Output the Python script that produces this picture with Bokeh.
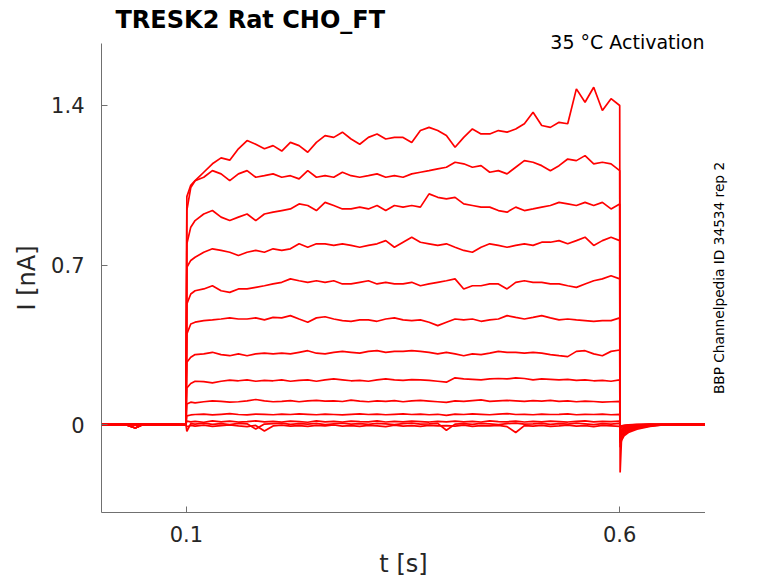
from math import pi

from bokeh.plotting import figure
from bokeh.layouts import row
from bokeh.models import Range1d, FixedTicker, Label, Title
from bokeh.embed import file_html
from bokeh.resources import INLINE

FONT = "DejaVu Sans"

# sample times (s): baseline before the step, during the step, tail after it
t_pre = [0.0, 0.015, 0.03, 0.041, 0.05, 0.07, 0.085, 0.0995]
t_pulse = [0.1005, 0.105,
           0.11, 0.12, 0.13, 0.14, 0.15, 0.16, 0.17, 0.18, 0.19, 0.20,
           0.21, 0.22, 0.23, 0.24, 0.25, 0.26, 0.27, 0.28, 0.29, 0.30,
           0.31, 0.32, 0.33, 0.34, 0.35, 0.36, 0.37, 0.38, 0.39, 0.40,
           0.41, 0.42, 0.43, 0.44, 0.45, 0.46, 0.47, 0.48, 0.49, 0.50,
           0.51, 0.52, 0.53, 0.54, 0.55, 0.56, 0.57, 0.58, 0.59, 0.60]
t_tail = [0.6005, 0.602, 0.605, 0.61, 0.62, 0.635, 0.65, 0.67, 0.70]

# holding current before the step (nA)
base_a = [0.002, 0.0, 0.003, 0.001, 0.002, -0.001, 0.002, 0.0]
base_b = [-0.002, 0.001, -0.001, -0.015, 0.0, 0.002, -0.002, 0.001]
base_c = [0.0, -0.003, 0.001, 0.0, -0.002, 0.001, 0.0, -0.002]

# current during the step (nA), one list per sweep
i_1 = [1.00, 1.05,
       1.07, 1.107, 1.144, 1.17, 1.16, 1.21, 1.246, 1.23, 1.21, 1.224,
       1.20, 1.238, 1.224, 1.195, 1.238, 1.268, 1.26, 1.283, 1.253, 1.23,
       1.26, 1.275, 1.253, 1.26, 1.26, 1.238, 1.29, 1.304, 1.29, 1.268,
       1.217, 1.26, 1.297, 1.275, 1.275, 1.29, 1.283, 1.297, 1.32, 1.37,
       1.312, 1.304, 1.326, 1.32, 1.473, 1.414, 1.48, 1.378, 1.43, 1.40]
i_2 = [0.94, 1.04,
       1.07, 1.085, 1.114, 1.10, 1.07, 1.10, 1.114, 1.085, 1.092, 1.10,
       1.085, 1.092, 1.078, 1.114, 1.085, 1.092, 1.085, 1.107, 1.092, 1.085,
       1.092, 1.10, 1.085, 1.092, 1.085, 1.10, 1.107, 1.114, 1.122, 1.129,
       1.151, 1.144, 1.129, 1.136, 1.107, 1.114, 1.10, 1.129, 1.158, 1.151,
       1.136, 1.114, 1.136, 1.165, 1.158, 1.18, 1.144, 1.151, 1.144, 1.114]
i_3 = [0.793, 0.866,
       0.895, 0.924, 0.939, 0.91, 0.895, 0.91, 0.924, 0.895, 0.924, 0.932,
       0.939, 0.946, 0.968, 0.961, 0.939, 0.975, 0.961, 0.946, 0.946, 0.954,
       0.946, 0.961, 0.939, 0.961, 0.954, 0.961, 0.954, 1.012, 0.997, 0.99,
       0.997, 0.968, 0.961, 0.954, 0.954, 0.939, 0.932, 0.954, 0.939, 0.946,
       0.954, 0.961, 0.975, 0.968, 0.961, 0.975, 0.961, 0.975, 0.946, 0.968]
i_4 = [0.69, 0.72,
       0.734, 0.756, 0.771, 0.764, 0.756, 0.742, 0.756, 0.764, 0.756, 0.771,
       0.764, 0.771, 0.793, 0.778, 0.793, 0.793, 0.786, 0.793, 0.786, 0.778,
       0.786, 0.793, 0.807, 0.778, 0.80, 0.822, 0.80, 0.793, 0.786, 0.793,
       0.778, 0.764, 0.756, 0.778, 0.793, 0.786, 0.778, 0.786, 0.793, 0.786,
       0.80, 0.80, 0.807, 0.793, 0.807, 0.822, 0.786, 0.807, 0.822, 0.807]
i_5 = [0.529, 0.573,
       0.587, 0.595, 0.609, 0.587, 0.58, 0.595, 0.595, 0.602, 0.609, 0.617,
       0.624, 0.639, 0.631, 0.624, 0.631, 0.624, 0.631, 0.617, 0.617, 0.624,
       0.631, 0.617, 0.624, 0.617, 0.617, 0.624, 0.609, 0.617, 0.624, 0.631,
       0.639, 0.595, 0.609, 0.609, 0.617, 0.617, 0.595, 0.624, 0.631, 0.624,
       0.624, 0.617, 0.617, 0.609, 0.602, 0.617, 0.631, 0.639, 0.653, 0.639]
i_6 = [0.397, 0.441,
       0.449, 0.456, 0.459, 0.463, 0.468, 0.463, 0.463, 0.468, 0.459, 0.47,
       0.468, 0.478, 0.463, 0.449, 0.468, 0.473, 0.463, 0.456, 0.453, 0.459,
       0.459, 0.453, 0.463, 0.468, 0.459, 0.456, 0.459, 0.449, 0.434, 0.449,
       0.463, 0.459, 0.463, 0.453, 0.459, 0.463, 0.478, 0.47, 0.463, 0.47,
       0.478, 0.468, 0.459, 0.463, 0.459, 0.456, 0.453, 0.456, 0.456, 0.468]
i_7 = [0.273, 0.295,
       0.307, 0.31, 0.317, 0.307, 0.302, 0.31, 0.302, 0.31, 0.313, 0.31,
       0.313, 0.31, 0.317, 0.324, 0.313, 0.31, 0.317, 0.321, 0.317, 0.313,
       0.321, 0.324, 0.317, 0.321, 0.321, 0.324, 0.321, 0.317, 0.31, 0.317,
       0.31, 0.302, 0.31, 0.307, 0.313, 0.321, 0.317, 0.317, 0.313, 0.317,
       0.313, 0.307, 0.302, 0.298, 0.321, 0.324, 0.31, 0.302, 0.321, 0.327]
i_8 = [0.16, 0.18,
       0.19, 0.188, 0.183, 0.19, 0.195, 0.192, 0.196, 0.19, 0.194, 0.192,
       0.196, 0.19, 0.194, 0.196, 0.19, 0.196, 0.2, 0.196, 0.192, 0.194,
       0.19, 0.196, 0.2, 0.196, 0.194, 0.197, 0.196, 0.194, 0.19, 0.186,
       0.205, 0.2, 0.198, 0.196, 0.2, 0.202, 0.2, 0.205, 0.202, 0.196,
       0.2, 0.198, 0.196, 0.198, 0.194, 0.196, 0.192, 0.194, 0.19, 0.196]
i_9 = [0.09, 0.098,
       0.095, 0.1, 0.104, 0.102, 0.098, 0.1, 0.104, 0.11, 0.104, 0.1,
       0.102, 0.105, 0.1, 0.104, 0.106, 0.103, 0.104, 0.101, 0.107, 0.103,
       0.1, 0.104, 0.102, 0.105, 0.1, 0.104, 0.106, 0.103, 0.1, 0.097,
       0.104, 0.102, 0.105, 0.108, 0.102, 0.104, 0.106, 0.104, 0.102, 0.105,
       0.103, 0.106, 0.102, 0.104, 0.1, 0.103, 0.101, 0.098, 0.1, 0.102]
i_10 = [0.038, 0.042,
        0.044, 0.046, 0.042, 0.045, 0.048, 0.044, 0.042, 0.046, 0.045, 0.043,
        0.046, 0.044, 0.047, 0.045, 0.043, 0.046, 0.044, 0.042, 0.045, 0.047,
        0.044, 0.046, 0.043, 0.045, 0.047, 0.044, 0.046, 0.043, 0.045, 0.04,
        0.046, 0.044, 0.047, 0.045, 0.043, 0.046, 0.048, 0.044, 0.045, 0.043,
        0.046, 0.044, 0.045, 0.047, 0.043, 0.045, 0.044, 0.046, 0.043, 0.045]
i_11 = [0.015, 0.012,
        0.014, 0.01, 0.016, 0.012, 0.015, 0.011, 0.013, 0.016, 0.012, 0.014,
        0.011, 0.015, 0.013, 0.01, 0.016, 0.012, 0.014, 0.011, 0.015, 0.013,
        0.012, 0.016, 0.011, 0.014, 0.012, 0.015, 0.013, 0.011, 0.014, 0.012,
        0.015, 0.012, 0.014, 0.011, 0.016, 0.013, 0.012, 0.015, 0.011, 0.014,
        0.012, 0.015, 0.013, 0.011, 0.014, 0.016, 0.012, 0.014, 0.013, 0.015]
i_12 = [-0.03, 0.004,
        0.002, 0.006, 0.001, 0.004, 0.0, 0.005, 0.003, -0.02, 0.002, 0.004,
        0.006, 0.001, 0.004, 0.002, 0.005, 0.0, 0.003, 0.006, 0.002, 0.004,
        0.001, 0.005, 0.003, 0.0, 0.004, 0.006, 0.002, 0.003, 0.005, -0.025,
        0.002, 0.004, 0.001, 0.005, 0.003, 0.0, 0.004, 0.006, 0.002, 0.003,
        0.005, 0.001, 0.004, 0.002, 0.006, 0.003, 0.0, 0.004, 0.002, 0.005]
i_13 = [-0.01, -0.004,
        -0.007, -0.003, -0.008, -0.005, -0.002, -0.006, -0.009, -0.004, -0.028, -0.006,
        -0.003, -0.007, -0.005, -0.008, -0.004, -0.006, -0.002, -0.007, -0.005, -0.008,
        -0.004, -0.006, -0.009, -0.003, -0.007, -0.005, -0.008, -0.004, -0.006, -0.005,
        -0.007, -0.003, -0.008, -0.005, -0.006, -0.004, -0.009, -0.035, -0.005, -0.007,
        -0.004, -0.008, -0.006, -0.003, -0.007, -0.005, -0.009, -0.004, -0.006, -0.008]

# tail current after the step (nA)
tail_1 = [-0.21, -0.07, -0.04, -0.025, -0.012, -0.004, -0.001, 0.0, 0.002]
tail_2 = [-0.10, -0.07, -0.05, -0.035, -0.02, -0.008, -0.002, 0.001, -0.001]
tail_3 = [-0.08, -0.06, -0.045, -0.03, -0.016, -0.006, -0.002, 0.0, 0.001]
tail_4 = [-0.07, -0.05, -0.035, -0.025, -0.014, -0.005, -0.001, 0.002, 0.0]
tail_5 = [-0.06, -0.045, -0.03, -0.02, -0.01, -0.003, 0.0, -0.001, 0.001]
tail_6 = [-0.05, -0.035, -0.025, -0.016, -0.008, -0.002, 0.001, 0.0, -0.001]
tail_7 = [-0.045, -0.03, -0.02, -0.012, -0.006, -0.001, 0.0, 0.001, 0.0]
tail_8 = [-0.04, -0.025, -0.016, -0.01, -0.005, -0.001, 0.001, 0.0, 0.001]
tail_9 = [-0.03, -0.02, -0.012, -0.007, -0.003, 0.0, -0.001, 0.001, 0.0]
tail_10 = [-0.02, -0.012, -0.008, -0.005, -0.002, 0.001, 0.0, -0.001, 0.001]
tail_11 = [-0.012, -0.008, -0.005, -0.002, 0.0, 0.002, 0.0, 0.001, -0.001]
tail_12 = [-0.01, -0.006, -0.004, -0.001, 0.001, 0.0, 0.002, 0.0, 0.001]
tail_13 = [-0.014, -0.009, -0.006, -0.003, -0.001, 0.001, -0.001, 0.0, 0.0]

sweeps = [
    (base_a, i_1, tail_1), (base_b, i_2, tail_2), (base_c, i_3, tail_3),
    (base_a, i_4, tail_4), (base_b, i_5, tail_5), (base_c, i_6, tail_6),
    (base_a, i_7, tail_7), (base_b, i_8, tail_8), (base_c, i_9, tail_9),
    (base_a, i_10, tail_10), (base_b, i_11, tail_11), (base_c, i_12, tail_12),
    (base_a, i_13, tail_13),
]

p = figure(
    width=705, height=582, title=None,
    x_range=Range1d(0.002, 0.699), y_range=Range1d(-0.386, 1.672),
    output_backend="svg", toolbar_location=None,
    min_border_left=101, min_border_right=0, min_border_top=43, min_border_bottom=70,
)
p.outline_line_color = None
p.xgrid.visible = False
p.ygrid.visible = False

# two title rows: the recording condition sits on the frame edge, the name above it
p.add_layout(Title(text="35 °C  Activation", align="right", offset=-5, standoff=-18,
                   text_font=FONT, text_font_size="19px", text_font_style="normal",
                   text_color="#000000"), "above")
p.add_layout(Title(text="TRESK2  Rat  CHO_FT", align="left", offset=14, standoff=7,
                   text_font=FONT, text_font_size="24px", text_font_style="bold",
                   text_color="#000000"), "above")

for pre, pulse, tail in sweeps:
    p.line(t_pre + t_pulse + t_tail, pre + pulse + tail, line_color="#ff0000", line_width=1.7)

# axes: ticks pointing inwards, grey spines
for ax in (p.xaxis[0], p.yaxis[0]):
    ax.axis_line_color = "#707070"
    ax.major_tick_line_color = "#707070"
    ax.major_tick_in = 6
    ax.major_tick_out = 0
    ax.minor_tick_in = 0
    ax.minor_tick_out = 0
    ax.major_label_text_font = FONT
    ax.major_label_text_font_size = "21px"
    ax.major_label_text_color = "#262626"
    ax.axis_label_text_font = FONT
    ax.axis_label_text_font_size = "24px"
    ax.axis_label_text_font_style = "normal"
    ax.axis_label_text_color = "#262626"

p.xaxis.axis_label = "t [s]"
p.xaxis.ticker = FixedTicker(ticks=[0.1, 0.6])
p.xaxis.major_label_standoff = 13
p.xaxis.axis_label_standoff = 5

p.yaxis.axis_label = "I [nA]"
p.yaxis.ticker = FixedTicker(ticks=[0, 0.7, 1.4])
p.yaxis.major_label_overrides = {0: "0", 0.7: "0.7", 1.4: "1.4"}
p.yaxis.major_label_standoff = 17
p.yaxis.axis_label_standoff = 7

# narrow strip on the right for the rotated record id
side = figure(
    width=65, height=582, x_range=Range1d(0, 65), y_range=Range1d(0, 582),
    output_backend="svg", toolbar_location=None, min_border=0,
    x_axis_type=None, y_axis_type=None,
)
side.outline_line_color = None
side.xgrid.visible = False
side.ygrid.visible = False
side.add_layout(Label(x=13, y=291, text="BBP Channelpedia ID 34534 rep 2",
                      text_font=FONT, text_font_size="13.7px", text_color="#000000",
                      angle=pi / 2, text_align="center", text_baseline="middle"))

layout = row(p, side)
open("out.html", "w").write(file_html(layout, INLINE))
